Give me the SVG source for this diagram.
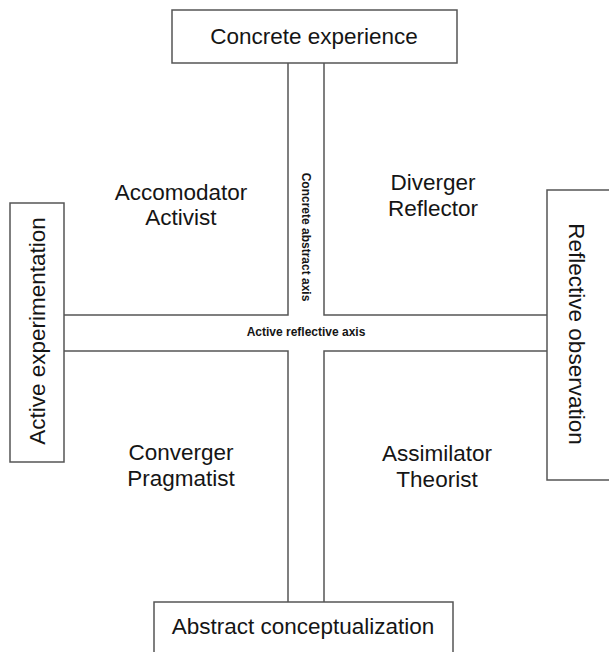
<svg xmlns="http://www.w3.org/2000/svg" width="609" height="652" viewBox="0 0 609 652">
  <style>
    .box { fill: #ffffff; stroke: #555555; stroke-width: 1.5; }
    .edge { fill: none; stroke: #555555; stroke-width: 1.5; }
    .big { font-family: "Liberation Sans", Arial, sans-serif; font-size: 22.5px; fill: #151515; text-anchor: middle; }
    .axis { font-family: "Liberation Sans", Arial, sans-serif; font-size: 12px; font-weight: bold; fill: #151515; text-anchor: middle; }
  </style>
  <rect width="609" height="652" fill="#ffffff"/>

  <!-- cross-shaped channel between the four poles -->
  <g id="connectors">
    <path class="edge" d="M288 63 V315 H64"/>
    <path class="edge" d="M324 63 V315 H547"/>
    <path class="edge" d="M64 351 H288 V602"/>
    <path class="edge" d="M547 351 H324 V602"/>
  </g>

  <g id="concrete-experience">
    <rect class="box" x="172" y="10" width="285" height="53"/>
    <text class="big" x="314" y="44">Concrete experience</text>
  </g>

  <g id="abstract-conceptualization">
    <rect class="box" x="154" y="602" width="299" height="70"/>
    <text class="big" x="303" y="634">Abstract conceptualization</text>
  </g>

  <g id="active-experimentation">
    <rect class="box" x="10" y="203" width="54" height="259"/>
    <text class="big" transform="translate(45 331) rotate(-90)">Active experimentation</text>
  </g>

  <g id="reflective-observation">
    <rect class="box" x="547" y="190" width="80" height="290"/>
    <text class="big" transform="translate(569 334) rotate(90)">Reflective observation</text>
  </g>

  <g id="concrete-abstract-axis">
    <text class="axis" transform="translate(302 237) rotate(90)">Concrete abstract axis</text>
  </g>

  <g id="active-reflective-axis">
    <text class="axis" x="306" y="336">Active reflective axis</text>
  </g>

  <g id="accomodator">
    <text class="big" x="181" y="200">Accomodator</text>
    <text class="big" x="181" y="225">Activist</text>
  </g>

  <g id="diverger">
    <text class="big" x="433" y="190">Diverger</text>
    <text class="big" x="433" y="216">Reflector</text>
  </g>

  <g id="converger">
    <text class="big" x="181" y="460">Converger</text>
    <text class="big" x="181" y="486">Pragmatist</text>
  </g>

  <g id="assimilator">
    <text class="big" x="437" y="461">Assimilator</text>
    <text class="big" x="437" y="487">Theorist</text>
  </g>
</svg>
